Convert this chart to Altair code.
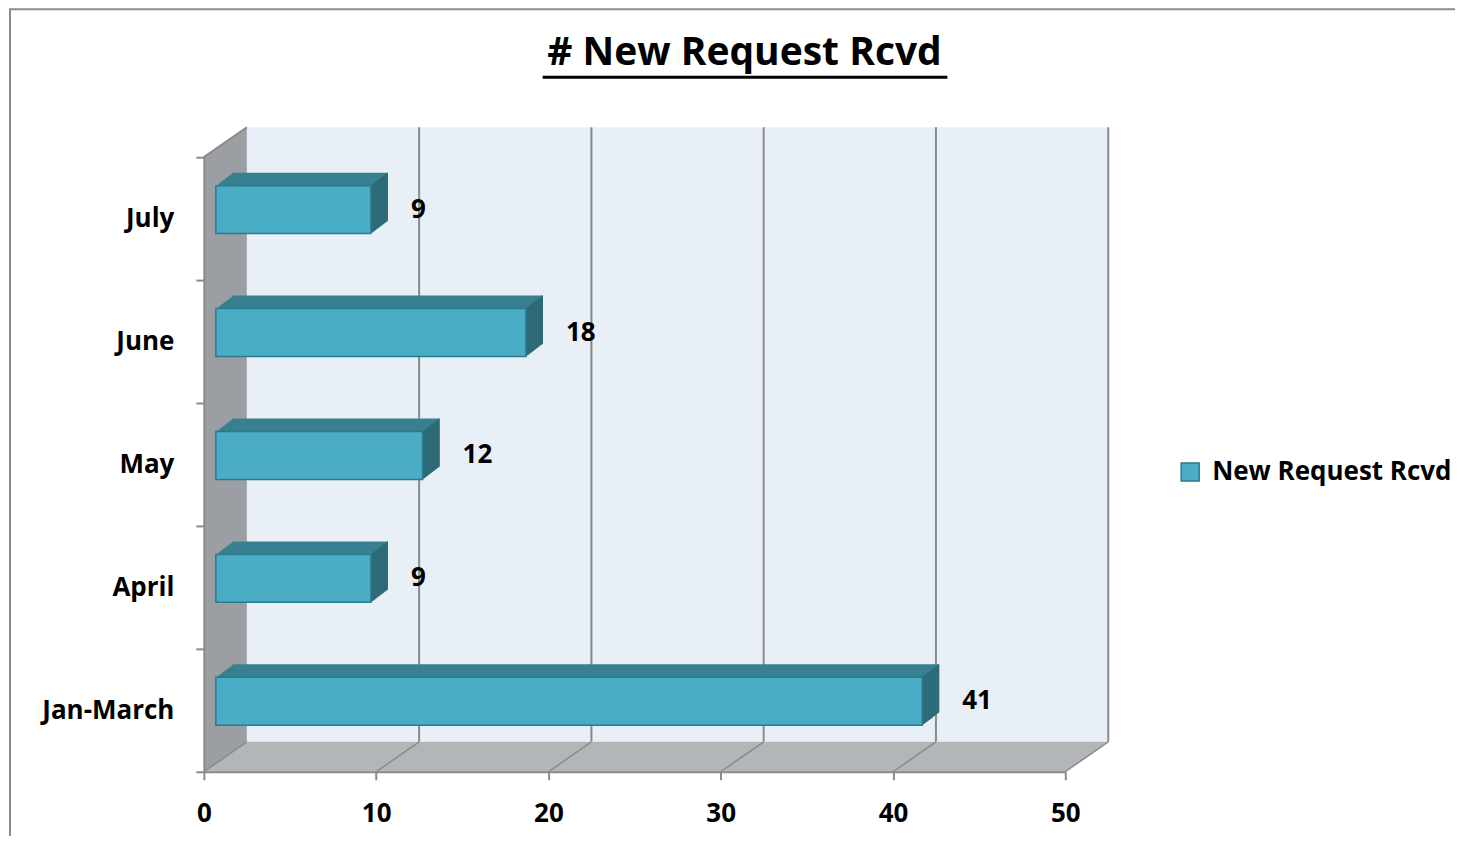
import altair as alt
import pandas as pd

# ---- data ----
categories = ["Jan-March", "April", "May", "June", "July"]
values = [41, 9, 12, 18, 9]
series_name = "New Request Rcvd"
order_top_down = ["July", "June", "May", "April", "Jan-March"]
x_ticks = [0, 10, 20, 30, 40, 50]
grid_ticks = [10, 20, 30, 40, 50]
title_text = "# New Request Rcvd"

# ---- layout / style constants ----
W, H = 862, 615          # front plane of the 3-D box
DX, DY = 43, 30          # depth of the box (px)
BX, BY = 12, 9           # bar front face pushed into depth
BDX, BDY = 17, 13        # depth of each bar
BAND = 0.39              # bar thickness relative to the category step
FONT = "Open Sans"
GREY = "#8a8a8a"
FRONT = "#4bacc6"
TOP = "#37808f"
SIDE = "#2e6b78"
EDGE = "#2b7b8e"

df = pd.DataFrame({"cat": categories, "val": values,
                   "series": [series_name] * len(categories)})
one = pd.DataFrame({"a": [0]})

xscale = alt.Scale(domain=[0, 50], nice=False, zero=True)
yscale = alt.Scale(domain=order_top_down, paddingInner=0, paddingOuter=0)
xaxis = alt.Axis(values=x_ticks, title=None, grid=False, labelFont=FONT,
                 labelFontSize=26, labelFontWeight="bold", labelColor="#000",
                 labelPadding=21, labelFlush=False, tickSize=8, tickWidth=2,
                 tickColor=GREY, domainColor=GREY, domainWidth=2, zindex=1)
yaxis = alt.Axis(title=None, grid=False, labelFont=FONT, labelFontSize=26,
                 labelFontWeight="bold", labelColor="#000", labelPadding=22,
                 tickSize=8, tickWidth=2, tickColor=GREY, tickBand="extent",
                 domainColor=GREY, domainWidth=2, zindex=1)

X = alt.X("val:Q", scale=xscale, axis=xaxis)
Y = alt.Y("cat:N", scale=yscale, axis=yaxis, sort=order_top_down)
BARH = alt.RelativeBandSize(BAND)

base = alt.Chart(df)
layers = []

# chart frame
layers.append(alt.Chart(one).mark_rect(fill="white", stroke="#8c8c8c", strokeWidth=2).encode(
    x=alt.value(-194), x2=alt.value(W + 700), y=alt.value(-148), y2=alt.value(H + 400)))

# back wall
layers.append(alt.Chart(one).mark_rect(fill="#e8eff6").encode(
    x=alt.value(DX), x2=alt.value(W + DX), y=alt.value(-DY), y2=alt.value(H - DY)))

# back wall gridlines
grid_df = pd.DataFrame({"t": grid_ticks})
layers.append(alt.Chart(grid_df).mark_rule(color=GREY, strokeWidth=2, xOffset=DX, x2Offset=DX).encode(
    x=alt.X("t:Q", scale=xscale, axis=xaxis), y=alt.value(-DY), y2=alt.value(H - DY)))

# left wall
lw = pd.DataFrame({"px": [0, DX], "py": [0, -DY], "py2": [H, H - DY]})
layers.append(alt.Chart(lw).mark_area(color="#9b9ea2", orient="vertical", opacity=1).encode(
    x=alt.X("px:Q", scale=None, axis=None),
    y=alt.Y("py:Q", scale=None, axis=None),
    y2="py2:Q"))

# floor
fl = pd.DataFrame({"py": [H, H - DY], "px": [0, DX], "px2": [W, W + DX]})
layers.append(alt.Chart(fl).mark_area(color="#b3b6b9", orient="horizontal", opacity=1).encode(
    y=alt.Y("py:Q", scale=None, axis=None),
    x=alt.X("px:Q", scale=None, axis=None),
    x2="px2:Q"))

# floor diagonals
tick_df = pd.DataFrame({"t": x_ticks})
layers.append(alt.Chart(tick_df).mark_rule(color=GREY, strokeWidth=1.5, x2Offset=DX).encode(
    x=alt.X("t:Q", scale=xscale, axis=xaxis), x2="t:Q",
    y=alt.value(H), y2=alt.value(H - DY)))

# left wall top edge
layers.append(alt.Chart(one).mark_rule(color=GREY, strokeWidth=2).encode(
    x=alt.value(0), x2=alt.value(DX), y=alt.value(0), y2=alt.value(-DY)))

# bar top faces (extrusion)
for i in range(1, BDX + 1):
    ox = BX + i
    oy = -BY - i * BDY / BDX
    layers.append(base.mark_bar(color=TOP, height=BARH, xOffset=ox, x2Offset=ox,
                                yOffset=oy, y2Offset=oy).encode(
        x=X, x2=alt.datum(0), y=Y))

# bar side faces
for i in range(1, BDX + 1):
    oy = -BY - i * BDY / BDX
    layers.append(base.mark_bar(color=SIDE, height=BARH, xOffset=BX + i - 1,
                                x2Offset=BX + i + (0.6 if i < BDX else 0),
                                yOffset=oy, y2Offset=oy).encode(
        x=X, x2="val:Q", y=Y))

# bar front faces
layers.append(base.mark_bar(stroke=EDGE, strokeWidth=1.5, height=BARH,
                            xOffset=BX, x2Offset=BX,
                            yOffset=-BY, y2Offset=-BY).encode(
    x=X, x2=alt.datum(0), y=Y,
    fill=alt.Fill("series:N",
                  scale=alt.Scale(domain=[series_name], range=[FRONT]),
                  legend=alt.Legend(title=None, orient="none", legendX=974, legendY=302,
                                    padding=0, symbolType="square", symbolSize=324,
                                    symbolStrokeColor=EDGE, symbolStrokeWidth=1.5,
                                    symbolFillColor=FRONT, labelOffset=9, labelLimit=0,
                                    labelFont=FONT, labelFontSize=26,
                                    labelFontWeight="bold", labelColor="#000"))))

# value labels
layers.append(base.mark_text(font=FONT, fontSize=26, fontWeight="bold", color="#000",
                             align="left", baseline="middle", dx=BX + 40, dy=-BY).encode(
    x=X, y=Y, text="val:Q"))

# title with underline
layers.append(alt.Chart(one).mark_text(text=title_text, font=FONT, fontSize=39,
                                       fontWeight="bold", color="#000",
                                       align="center", baseline="alphabetic").encode(
    x=alt.value(541), y=alt.value(-92)))
layers.append(alt.Chart(one).mark_rule(color="#000", strokeWidth=3).encode(
    x=alt.value(339), x2=alt.value(744), y=alt.value(-80), y2=alt.value(-80)))

chart = alt.layer(*layers).properties(
    width=W, height=H,
    padding={"left": 196, "top": 149, "right": 390, "bottom": 64},
    autosize=alt.AutoSizeParams(type="none"),
    background="white",
).configure_view(stroke=None)

chart.save("out.html", embed_options={"renderer": "svg", "actions": False})
